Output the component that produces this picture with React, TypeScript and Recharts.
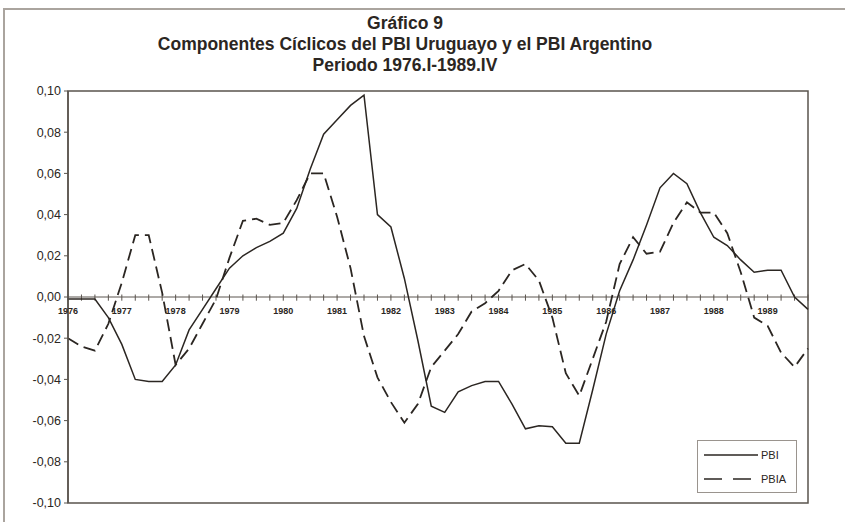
import React from 'react';
import {
  LineChart,
  Line,
  XAxis,
  YAxis,
  ReferenceLine,
  ReferenceArea,
  Legend,
} from 'recharts';

// quarterly cyclical components, 1976.I - 1989.IV
const pbi = [
  -0.001, -0.001, -0.001, -0.010, -0.023, -0.040, -0.041, -0.041, -0.033, -0.016,
  -0.006, 0.004, 0.014, 0.020, 0.024, 0.027, 0.031, 0.043, 0.062, 0.079,
  0.086, 0.093, 0.098, 0.040, 0.034, 0.009, -0.021, -0.053, -0.056, -0.046,
  -0.043, -0.041, -0.041, -0.052, -0.064, -0.0625, -0.063, -0.071, -0.071, -0.045,
  -0.018, 0.003, 0.018, 0.035, 0.053, 0.060, 0.055, 0.041, 0.029, 0.025,
  0.018, 0.012, 0.013, 0.013, 0.000, -0.006,
];

const pbia = [
  -0.020, -0.024, -0.026, -0.013, 0.007, 0.030, 0.030, 0.002, -0.033, -0.025,
  -0.013, -0.001, 0.019, 0.037, 0.038, 0.035, 0.036, 0.047, 0.060, 0.060,
  0.039, 0.014, -0.019, -0.039, -0.051, -0.061, -0.052, -0.034, -0.026, -0.018,
  -0.007, -0.003, 0.003, 0.013, 0.016, 0.008, -0.010, -0.037, -0.048, -0.030,
  -0.012, 0.016, 0.029, 0.021, 0.022, 0.036, 0.046, 0.041, 0.041, 0.031,
  0.012, -0.010, -0.014, -0.027, -0.034, -0.025,
];

const years = [1976, 1977, 1978, 1979, 1980, 1981, 1982, 1983, 1984, 1985, 1986, 1987, 1988, 1989];
const yTicks = [0.1, 0.08, 0.06, 0.04, 0.02, 0, -0.02, -0.04, -0.06, -0.08, -0.1];

const data = pbi.map((v, i) => ({ q: i, PBI: v, PBIA: pbia[i] }));
const quarters = data.map((d) => d.q);

const INK = '#2b2622';
const AXIS = '#5a544e';
const FONT = "Arial, 'Liberation Sans', sans-serif";
const DASH = '12 6';

const fmt = (v: number) => v.toFixed(2).replace('.', ',');

function LegendBox() {
  const row = (label: string, dash?: string) => (
    <div style={{ display: 'flex', alignItems: 'center', height: 24 }}>
      <svg width={58} height={6} style={{ marginRight: 2 }}>
        <line x1={3} y1={3} x2={57} y2={3} stroke={INK} strokeWidth={1.5} strokeDasharray={dash ? '18 11' : undefined} />
      </svg>
      <span style={{ fontSize: 11, color: INK }}>{label}</span>
    </div>
  );
  return (
    <div
      style={{
        width: 100,
        height: 53,
        border: '1px solid #9a948e',
        boxSizing: 'border-box',
        padding: '2px 0 0 3px',
        fontFamily: FONT,
        background: '#fff',
      }}
    >
      {row('PBI')}
      {row('PBIA', DASH)}
    </div>
  );
}

export default function App() {
  return (
    <div
      style={{
        position: 'fixed',
        left: 0,
        top: 0,
        width: 845,
        height: 522,
        background: '#fff',
        overflow: 'hidden',
        fontFamily: FONT,
      }}
    >
      <div
        style={{
          position: 'absolute',
          left: 3,
          top: 8,
          width: 900,
          height: 600,
          border: '2px solid #aaa49e',
        }}
      />
      <div
        style={{
          position: 'absolute',
          left: 0,
          top: 13,
          width: 810,
          textAlign: 'center',
          fontWeight: 'bold',
          fontSize: 17.5,
          lineHeight: '21px',
          color: INK,
        }}
      >
        <div>Gráfico 9</div>
        <div>Componentes Cíclicos del PBI Uruguayo y el PBI Argentino</div>
        <div>Periodo 1976.I-1989.IV</div>
      </div>
      <div style={{ position: 'absolute', left: 0, top: 0 }}>
        <LineChart width={845} height={522} data={data} margin={{ top: 91, right: 37, bottom: 19, left: 0 }}>
          <XAxis type="number" dataKey="q" domain={[0, 55]} hide />
          <YAxis
            domain={[-0.1, 0.1]}
            ticks={yTicks}
            interval={0}
            width={68}
            tickFormatter={fmt}
            tick={{ fontSize: 12.5, fill: INK, fontFamily: FONT }}
            tickSize={4}
            tickMargin={3}
            axisLine={{ stroke: AXIS, strokeWidth: 1.5 }}
            tickLine={{ stroke: AXIS }}
            allowDataOverflow
          />
          <ReferenceArea x1={0} x2={55} y1={-0.1} y2={0.1} fill="none" stroke={AXIS} strokeWidth={1.5} />
          <ReferenceLine y={0} stroke={AXIS} strokeWidth={1} />
          {quarters.map((q) => (
            <ReferenceLine
              key={q}
              segment={[
                { x: q, y: 0.0012 },
                { x: q, y: -0.0018 },
              ]}
              stroke={AXIS}
              label={
                q % 4 === 0
                  ? {
                      value: String(years[q / 4]),
                      position: 'bottom',
                      offset: 7,
                      fontSize: 9,
                      fontWeight: 'bold',
                      fill: INK,
                      fontFamily: FONT,
                    }
                  : undefined
              }
            />
          ))}
          <Line type="linear" dataKey="PBI" stroke={INK} strokeWidth={1.5} dot={false} isAnimationActive={false} />
          <Line
            type="linear"
            dataKey="PBIA"
            stroke={INK}
            strokeWidth={1.8}
            strokeDasharray={DASH}
            dot={false}
            isAnimationActive={false}
          />
          <Legend
            layout="horizontal"
            verticalAlign="middle"
            align="center"
            content={() => <LegendBox />}
            wrapperStyle={{ left: 697, top: 440, width: 100, height: 53 }}
          />
        </LineChart>
      </div>
    </div>
  );
}
